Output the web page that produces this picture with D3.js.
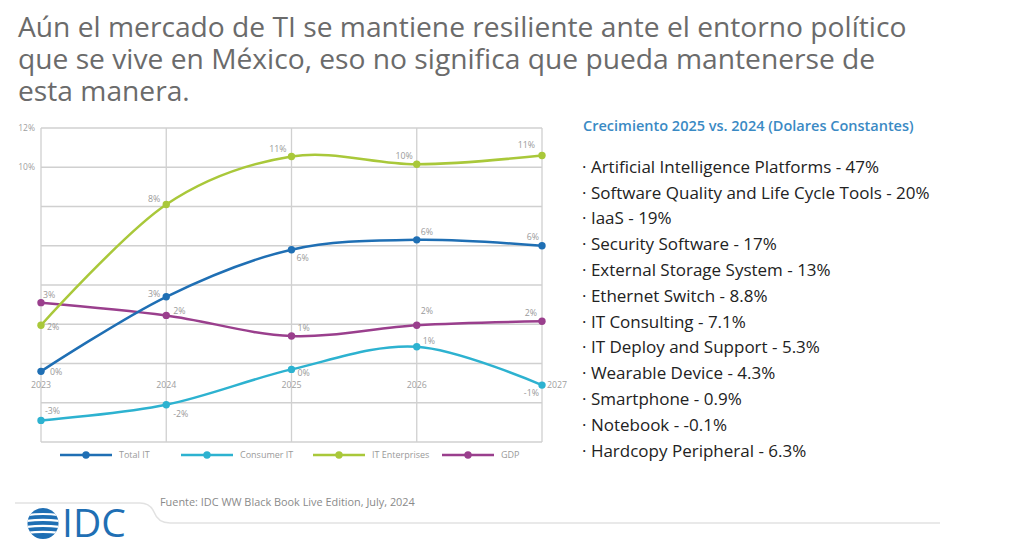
<!DOCTYPE html>
<html>
<head>
<meta charset="utf-8">
<script src="https://cdn.jsdelivr.net/npm/d3@7/dist/d3.min.js"></script>
<style>
  html, body { margin: 0; padding: 0; background: #fff; }
  svg { display: block; font-family: "Open Sans", "Noto Sans", sans-serif; }
</style>
</head>
<body>
<svg id="chart" width="1024" height="548"></svg>
<script>
// ---------- DATA ----------
const titleLines = [
  "Aún el mercado de TI se mantiene resiliente ante el entorno político",
  "que se vive en México, eso no significa que pueda mantenerse de",
  "esta manera."
];
const years = ["2023", "2024", "2025", "2026", "2027"];
const seriesNames = ["Total IT", "Consumer IT", "IT Enterprises", "GDP"];
const totalIT       = [-0.4, 3.4, 5.8, 6.3, 6.0];
const consumerIT    = [-2.9, -2.1, -0.3, 0.85, -1.1];
const itEnterprises = [1.95, 8.1, 10.55, 10.15, 10.6];
const gdp           = [3.1, 2.45, 1.4, 1.95, 2.15];
const totalITLabels       = ["0%", "3%", "6%", "6%", "6%"];
const consumerITLabels    = ["-3%", "-2%", "0%", "1%", "-1%"];
const itEnterprisesLabels = ["2%", "8%", "11%", "10%", "11%"];
const gdpLabels           = ["3%", "2%", "1%", "2%", "2%"];
const yTicks = [-4, -2, 0, 2, 4, 6, 8, 10, 12];
const yTickLabels = ["", "", "", "", "", "", "", "10%", "12%"];
const sideTitle = "Crecimiento 2025 vs. 2024 (Dolares Constantes)";
const sideItems = [
  "Artificial Intelligence Platforms - 47%",
  "Software Quality and Life Cycle Tools - 20%",
  "IaaS - 19%",
  "Security Software - 17%",
  "External Storage System - 13%",
  "Ethernet Switch - 8.8%",
  "IT Consulting - 7.1%",
  "IT Deploy and Support - 5.3%",
  "Wearable Device - 4.3%",
  "Smartphone - 0.9%",
  "Notebook - -0.1%",
  "Hardcopy Peripheral - 6.3%"
];
const sourceText = "Fuente: IDC WW Black Book Live Edition, July, 2024";
const logoText = "IDC";

// ---------- STYLE / LAYOUT ----------
const colors = ["#1f6fb4", "#2db2d0", "#a9c83a", "#9a3f8d"];
const labelOffsets = [
  [[9, 1], [-6, -3], [5, 8], [4, -8], [-3, -9]],
  [[4, -9], [7, 9], [6, 4], [6, -6], [-3, 8]],
  [[6, 2], [-6, -6], [-5, -7], [-4, -8], [-7, -10]],
  [[2, -8], [7, -4], [6, -8], [4, -14], [-5, -8]]
];

const svg = d3.select("#chart");

// Title
svg.append("g").selectAll("text").data(titleLines).join("text")
  .attr("x", 18).attr("y", (d, i) => 37 + i * 32)
  .attr("fill", "#6b6b6b").attr("font-size", 28.2)
  .text(d => d);

// Scales
const x = d3.scalePoint().domain(years).range([41, 542]);
const y = d3.scaleLinear().domain([-4, 12]).range([442, 128]);

const plot = svg.append("g");

// Horizontal gridlines
plot.append("g").selectAll("line").data(yTicks).join("line")
  .attr("x1", 41).attr("x2", 542)
  .attr("y1", d => y(d)).attr("y2", d => y(d))
  .attr("stroke", "#d0d0d0").attr("stroke-width", 1.3);
// Vertical gridlines
plot.append("g").selectAll("line").data(years).join("line")
  .attr("x1", d => x(d)).attr("x2", d => x(d))
  .attr("y1", y(12)).attr("y2", y(-4))
  .attr("stroke", "#d0d0d0").attr("stroke-width", 1.3);

// Y tick labels
plot.append("g").selectAll("text").data(yTicks).join("text")
  .attr("x", 35).attr("y", d => y(d) + 3)
  .attr("text-anchor", "end").attr("font-size", 8.5).attr("fill", "#a0a0a0")
  .text((d, i) => yTickLabels[i]);

// X labels
plot.append("g").selectAll("text").data(years).join("text")
  .attr("x", (d, i) => i === years.length - 1 ? x(d) + 5 : x(d))
  .attr("y", y(-1) + 4.5)
  .attr("text-anchor", (d, i) => i === years.length - 1 ? "start" : "middle")
  .attr("font-size", 8.8).attr("fill", "#a0a0a0")
  .text(d => d);

const seriesData = [totalIT, consumerIT, itEnterprises, gdp];
const seriesLabels = [totalITLabels, consumerITLabels, itEnterprisesLabels, gdpLabels];

const line = d3.line()
  .x((d, i) => x(years[i]))
  .y(d => y(d))
  .curve(d3.curveCardinal.tension(0));

const order = [3, 2, 1, 0];
order.forEach(s => {
  const g = plot.append("g");
  g.append("path").datum(seriesData[s])
    .attr("d", line).attr("fill", "none")
    .attr("stroke", colors[s]).attr("stroke-width", 2.5);
  g.selectAll("circle").data(seriesData[s]).join("circle")
    .attr("cx", (d, i) => x(years[i])).attr("cy", d => y(d))
    .attr("r", 3.7).attr("fill", colors[s]);
});
order.forEach(s => {
  plot.append("g").selectAll("text").data(seriesData[s]).join("text")
    .attr("x", (d, i) => x(years[i]) + labelOffsets[s][i][0])
    .attr("y", (d, i) => y(d) + labelOffsets[s][i][1] + 3)
    .attr("text-anchor", (d, i) => labelOffsets[s][i][0] < 0 ? "end" : "start")
    .attr("font-size", 8.8).attr("fill", "#9a9a9a")
    .text((d, i) => seriesLabels[s][i]);
});

// Legend
const legendX = [60, 181, 313, 442];
const legend = svg.append("g").selectAll("g").data(seriesNames).join("g")
  .attr("transform", (d, i) => `translate(${legendX[i]},455)`);
legend.append("line").attr("x1", 0).attr("x2", 52).attr("y1", 0).attr("y2", 0)
  .attr("stroke", (d, i) => colors[i]).attr("stroke-width", 2.5);
legend.append("circle").attr("cx", 26).attr("cy", 0).attr("r", 3.7)
  .attr("fill", (d, i) => colors[i]);
legend.append("text").attr("x", 59).attr("y", 3)
  .attr("font-size", 9).attr("fill", "#9a9a9a").text(d => d);

// Side panel
svg.append("text").attr("x", 583).attr("y", 131)
  .attr("font-size", 14.5).attr("font-weight", 600).attr("fill", "#3a8ac4")
  .text(sideTitle);
svg.append("g").selectAll("text").data(sideItems).join("text")
  .attr("x", 582).attr("y", (d, i) => 172.7 + i * 25.8)
  .attr("font-size", 17).attr("fill", "#222")
  .text(d => "· " + d);

// Footer rule
svg.append("path")
  .attr("d", "M15,503 L140,503 Q150,503 154,512 Q158,523 170,523 L940,523")
  .attr("fill", "none").attr("stroke", "#e2e2e2").attr("stroke-width", 1.5);
svg.append("text").attr("x", 160).attr("y", 506)
  .attr("font-size", 10.9).attr("fill", "#8a8a8a").text(sourceText);

// IDC logo
const logo = svg.append("g");
const defs = svg.append("defs");
defs.append("clipPath").attr("id", "globeClip")
  .append("circle").attr("cx", 43).attr("cy", 523.5).attr("r", 15.5);
const globe = logo.append("g").attr("clip-path", "url(#globeClip)");
globe.append("rect").attr("x", 26).attr("y", 507).attr("width", 34).attr("height", 34).attr("fill", "#1f6fb4");
[-9, -3.2, 2.8, 8.8].forEach(o => {
  globe.append("path")
    .attr("d", `M24,${523.5 + o + 1} Q43,${523.5 + o - 2} 62,${523.5 + o + 1}`)
    .attr("stroke", "#fff").attr("stroke-width", 2.2).attr("fill", "none");
});
logo.append("text").attr("x", 62).attr("y", 537)
  .attr("font-size", 39).attr("fill", "#1f6fb4")
  .text(logoText);
</script>
</body>
</html>
